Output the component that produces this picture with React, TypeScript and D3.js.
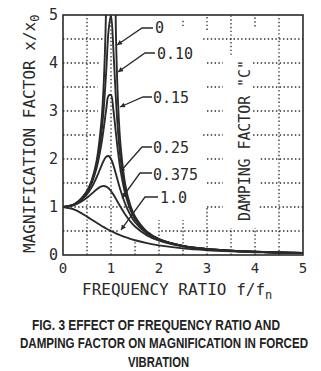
import React from "react";
import * as d3 from "d3";

// ---- data ----
const ratio = [0, 0.25, 0.5, 0.6, 0.7, 0.8, 0.85, 0.9, 0.95, 1.0, 1.05, 1.1, 1.15, 1.2, 1.3, 1.4, 1.5, 1.75, 2, 2.5, 3, 3.5, 4, 4.5, 5];
const magC0: (number | null)[] = [1, 1.0667, 1.3333, 1.5625, 1.9608, 2.7778, 3.6036, 5.2632, 10.256, null, 9.7561, 4.7619, 3.1008, 2.2727, 1.4493, 1.0417, 0.8, 0.4848, 0.3333, 0.1905, 0.125, 0.0889, 0.0667, 0.0519, 0.0417];
const magC010 = [1, 1.0652, 1.3216, 1.5357, 1.8908, 2.5384, 3.0728, 3.8208, 4.6826, 5.0, 4.2794, 3.288, 2.5245, 1.9952, 1.3562, 1.0, 0.7779, 0.478, 0.3304, 0.1896, 0.1247, 0.0887, 0.0666, 0.0519, 0.0416];
const magC015 = [1, 1.0633, 1.3074, 1.5041, 1.8131, 2.3112, 2.6534, 3.0289, 3.3199, 3.3333, 3.0188, 2.5566, 2.1174, 1.759, 1.2617, 0.9543, 0.7527, 0.4699, 0.3269, 0.1886, 0.1242, 0.0885, 0.0665, 0.0518, 0.0416];
const magC025 = [1, 1.0573, 1.2649, 1.4148, 1.6167, 1.8582, 1.9701, 2.0472, 2.0623, 2.0, 1.8695, 1.6986, 1.5168, 1.344, 1.0549, 0.8417, 0.686, 0.4463, 0.3162, 0.1853, 0.1229, 0.0878, 0.0661, 0.0516, 0.0414];
const magC0375 = [1, 1.0459, 1.1926, 1.2782, 1.3662, 1.4292, 1.4383, 1.4261, 1.3905, 1.3333, 1.2592, 1.1747, 1.086, 0.9982, 0.8372, 0.7029, 0.5946, 0.409, 0.2981, 0.1794, 0.1203, 0.0866, 0.0654, 0.0512, 0.0412];
const magC1 = [1, 0.9412, 0.8, 0.7353, 0.6711, 0.6098, 0.5806, 0.5525, 0.5256, 0.5, 0.4756, 0.4525, 0.4306, 0.4098, 0.3717, 0.3378, 0.3077, 0.2462, 0.2, 0.1379, 0.1, 0.0755, 0.0588, 0.0471, 0.0385];

const seriesValues = [magC0, magC010, magC015, magC025, magC0375, magC1];
const dampingLabels = ["0", "0.10", "0.15", "0.25", "0.375", "1.0"];
const xTicks = [0, 1, 2, 3, 4, 5];
const yTicks = [0, 1, 2, 3, 4, 5];

// ---- layout (data units) ----
// label: [textX, textY, kneeRightX, kneeLeftX, kneeY, tipX, tipY]
const labelLayout = [
  [1.917, 4.729, 1.875, 1.646, 4.729, 1.125, 4.375],
  [1.958, 4.198, 1.917, 1.708, 4.208, 1.146, 3.8125],
  [1.875, 3.281, 1.854, 1.667, 3.292, 1.1875, 3.083],
  [1.875, 2.24, 1.854, 1.646, 2.25, 1.1875, 1.729],
  [1.875, 1.667, 1.854, 1.604, 1.708, 1.229, 1.1875],
  [2.021, 1.198, 1.979, 1.708, 1.208, 1.208, 0.521],
];
// dotted grid visible segments
const hGrid: [number, [number, number][]][] = [
  [4.5, [[0, 0.87], [2.92, 5]]],
  [4.0, [[0, 0.78], [3.0, 3.33], [3.96, 5]]],
  [3.5, [[0, 0.72], [3.0, 3.33], [3.96, 5]]],
  [3.0, [[0, 0.73], [3.0, 3.33], [3.96, 5]]],
  [2.5, [[0, 0.68], [2.92, 3.33], [3.96, 5]]],
  [2.0, [[0, 0.55], [3.0, 3.33], [4.12, 5]]],
  [1.5, [[0, 0.5], [3.0, 3.33], [4.12, 5]]],
  [1.0, [[0, 1.4], [3.0, 3.33], [4.1, 5]]],
  [0.5, [[0, 1.17], [2.05, 5]]],
];
const vGrid: [number, [number, number][]][] = [
  [0.5, [[0, 5]]],
  [1.0, [[0, 5]]],
  [1.5, [[0, 0.3]]],
  [2.0, [[0, 0.73]]],
  [2.5, [[0, 0.73], [4.77, 4.88]]],
  [3.0, [[0, 0.98], [4.69, 5]]],
  [3.5, [[0, 0.56], [4.17, 5]]],
  [4.0, [[0, 0.56], [4.76, 5]]],
  [4.5, [[0, 5]]],
];

const W = 321, H = 371;
const INK = "#2a2a2a";
const MONO = "'DejaVu Sans Mono', 'Liberation Mono', monospace";

export default function App() {
  const x = d3.scaleLinear().domain([0, 5]).range([63, 303]);
  const y = d3.scaleLinear().domain([0, 5]).range([255, 15]);
  const line = d3
    .line<number | null>()
    .defined((d) => d !== null)
    .x((_, i) => x(ratio[i]))
    .y((d) => y(d as number))
    .curve(d3.curveCatmullRom.alpha(0.5));

  return (
    <svg width={W} height={H} style={{ position: "absolute", left: 0, top: 0, background: "#fff" }}>
      <defs>
        <clipPath id="plot">
          <rect x={x(0)} y={y(5)} width={x(5) - x(0)} height={y(0) - y(5)} />
        </clipPath>
        <marker id="arr" viewBox="0 0 10 10" refX="10" refY="5" markerWidth="7" markerHeight="5" orient="auto" markerUnits="userSpaceOnUse">
          <path d="M0,0 L10,5 L0,10 z" fill={INK} />
        </marker>
      </defs>
      <rect width={W} height={H} fill="#fff" />

      {/* dotted grid */}
      <g stroke={INK} strokeWidth={1.3} strokeDasharray="1.4 2.4" fill="none">
        {hGrid.map(([v, segs]) =>
          segs.map(([a, b], j) => (
            <line key={`h${v}-${j}`} x1={x(a)} x2={x(b)} y1={y(v)} y2={y(v)} />
          ))
        )}
        {vGrid.map(([v, segs]) =>
          segs.map(([a, b], j) => (
            <line key={`v${v}-${j}`} x1={x(v)} x2={x(v)} y1={y(a)} y2={y(b)} />
          ))
        )}
      </g>

      {/* curves */}
      <g clipPath="url(#plot)" fill="none" stroke={INK} strokeWidth={1.9} strokeLinejoin="round">
        {seriesValues.map((vals, i) => (
          <path key={i} d={line(vals) || ""} />
        ))}
      </g>

      {/* frame */}
      <rect x={x(0)} y={y(5)} width={x(5) - x(0)} height={y(0) - y(5)} fill="none" stroke={INK} strokeWidth={1.6} />

      {/* curve labels with leaders */}
      {dampingLabels.map((lab, i) => {
        const [tx, ty, kr, kl, ky, px, py] = labelLayout[i];
        return (
          <g key={lab}>
            <path
              d={`M${x(kr)},${y(ky)} L${x(kl)},${y(ky)} L${x(px)},${y(py)}`}
              fill="none"
              stroke={INK}
              strokeWidth={1.3}
              markerEnd="url(#arr)"
            />
            <text x={x(tx)} y={y(ty)} dy="0.36em" fontFamily={MONO} fontSize={15} fill={INK}>
              {lab}
            </text>
          </g>
        );
      })}

      {/* damping factor title */}
      <text
        transform={`translate(${x(3.896)},${y(0.708)}) rotate(-90)`}
        fontFamily={MONO}
        fontSize={15}
        fill={INK}
        textLength={161}
        lengthAdjust="spacing"
      >
        DAMPING FACTOR "C"
      </text>

      {/* y tick labels */}
      {yTicks.map((t) => (
        <text key={`yt${t}`} x={x(0) - 5} y={y(t)} dy="0.36em" textAnchor="end" fontFamily={MONO} fontSize={15} fill={INK}>
          {t}
        </text>
      ))}
      {/* x tick labels */}
      {xTicks.map((t) => (
        <text key={`xt${t}`} x={x(t)} y={y(0) + 18} textAnchor="middle" fontFamily={MONO} fontSize={14} fill={INK}>
          {t}
        </text>
      ))}

      {/* axis titles */}
      <text x={82} y={295} fontFamily={MONO} fontSize={16} fill={INK}>
        FREQUENCY RATIO f/f
        <tspan fontSize={12} dy={4}>n</tspan>
      </text>
      <text transform="translate(35,253) rotate(-90)" fontFamily={MONO} fontSize={16} fill={INK}>
        MAGNIFICATION FACTOR x/x
        <tspan fontSize={12} dy={4}>0</tspan>
      </text>

      {/* caption */}
      <g fontFamily="'Liberation Sans Narrow', 'Arial Narrow', 'Liberation Sans', Arial, sans-serif" fontWeight="bold" fontSize={14} fill="#222" style={{ whiteSpace: "pre" }}>
        <text x={32} y={330} textLength={248} lengthAdjust="spacingAndGlyphs">FIG. 3  EFFECT OF FREQUENCY RATIO AND</text>
        <text x={20} y={348} textLength={288} lengthAdjust="spacingAndGlyphs">DAMPING FACTOR ON MAGNIFICATION IN FORCED</text>
        <text x={128} y={367} textLength={61} lengthAdjust="spacingAndGlyphs">VIBRATION</text>
      </g>
    </svg>
  );
}
